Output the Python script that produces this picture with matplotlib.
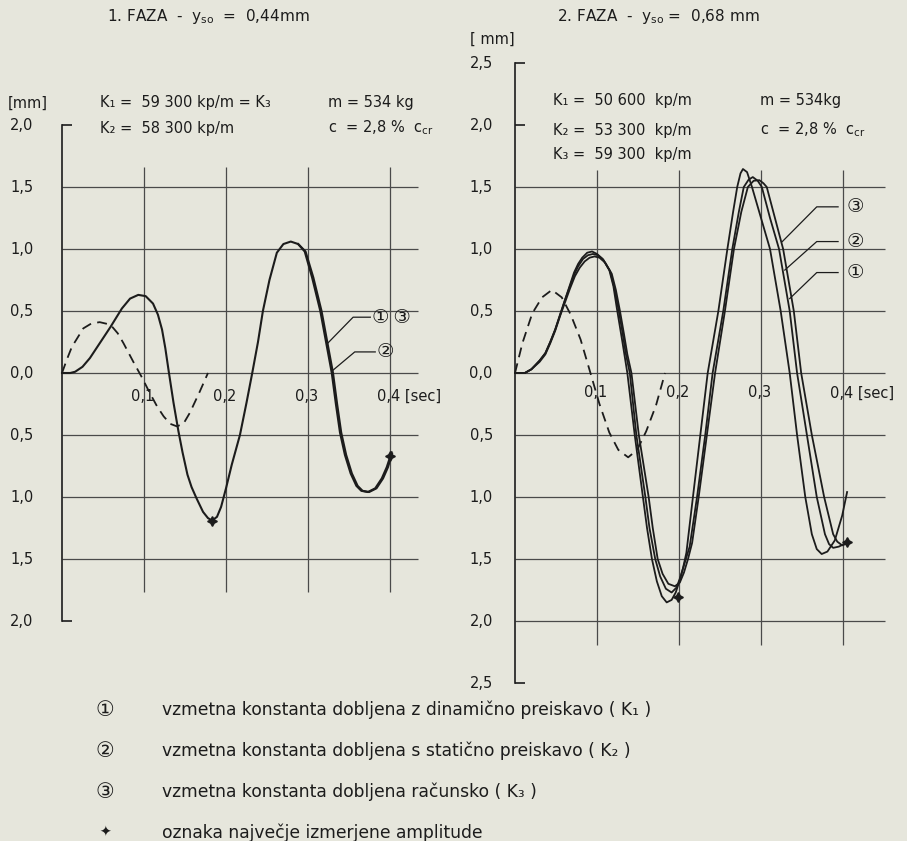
import matplotlib
matplotlib.use('Agg')
import matplotlib.pyplot as plt
import numpy as np

plt.rcParams['font.family'] = ['DejaVu Sans', 'Noto Sans CJK JP']
plt.rcParams['mathtext.default'] = 'regular'

BG = '#e6e6dc'
INK = '#1c1c1c'
GRID = '#4a4a4a'

# ---- 1. FAZA (left) ----
l_dash_t = [0, 0.006, 0.012, 0.026, 0.036, 0.046, 0.059, 0.068, 0.075, 0.087, 0.097,
            0.107, 0.116, 0.124, 0.132, 0.140, 0.148, 0.156, 0.168, 0.178]
l_dash_v = [0, 0.11, 0.21, 0.36, 0.40, 0.41, 0.39, 0.32, 0.24, 0.09, -0.03,
            -0.16, -0.27, -0.35, -0.41, -0.43, -0.41, -0.32, -0.15, 0.0]

l_k1_t = [0, 0.010, 0.016, 0.025, 0.034, 0.045, 0.059, 0.073, 0.083, 0.093, 0.102,
          0.111, 0.117, 0.122, 0.126, 0.130, 0.136, 0.142, 0.147, 0.153, 0.158, 0.164,
          0.172, 0.178, 0.183, 0.189, 0.194, 0.200, 0.207, 0.217, 0.225, 0.232, 0.239,
          0.245, 0.253, 0.262, 0.270, 0.279, 0.288, 0.296, 0.305, 0.315, 0.322,
          0.329, 0.334, 0.339, 0.345, 0.352, 0.359, 0.365, 0.373, 0.382, 0.390, 0.396, 0.402]
l_k1_v = [0, 0.0, 0.01, 0.05, 0.12, 0.23, 0.37, 0.52, 0.60, 0.63, 0.62,
          0.56, 0.47, 0.35, 0.20, 0.02, -0.24, -0.47, -0.64, -0.82, -0.92, -1.01,
          -1.12, -1.17, -1.19, -1.16, -1.08, -0.93, -0.74, -0.5, -0.24, 0.0, 0.25,
          0.5, 0.75, 0.97, 1.04, 1.06, 1.04, 0.98, 0.77, 0.5, 0.25,
          0.0, -0.25, -0.48, -0.66, -0.81, -0.91, -0.95, -0.96, -0.93, -0.85, -0.76, -0.64]

# curve 2 separates slightly from 1/3 after the second peak
l_k2_t = [0.288, 0.297, 0.3065, 0.3165, 0.3235, 0.3305, 0.3355, 0.3405, 0.3465,
          0.3535, 0.3605, 0.3665, 0.3745, 0.3835, 0.3915, 0.3975, 0.4025]
l_k2_v = [1.04, 0.98, 0.77, 0.5, 0.25, 0.0, -0.25, -0.48, -0.66,
          -0.81, -0.91, -0.95, -0.96, -0.93, -0.85, -0.76, -0.65]

l_star_t = [0.183, 0.400]
l_star_v = [-1.19, -0.67]

# ---- 2. FAZA (right) ----
r_dash_t = [0, 0.009, 0.021, 0.033, 0.045, 0.057, 0.068, 0.080, 0.092, 0.103,
            0.115, 0.126, 0.138, 0.149, 0.160, 0.172, 0.183]
r_dash_v = [0, 0.24, 0.48, 0.61, 0.67, 0.61, 0.47, 0.27, 0.0, -0.25,
            -0.48, -0.62, -0.68, -0.62, -0.47, -0.26, 0.0]

r_k3_t = [0, 0.012, 0.020, 0.030, 0.037, 0.043, 0.049, 0.055, 0.061, 0.067, 0.072,
          0.077, 0.082, 0.088, 0.094, 0.100, 0.107, 0.115, 0.120, 0.124, 0.131,
          0.137, 0.146, 0.156, 0.161, 0.167, 0.173, 0.179, 0.185, 0.191, 0.196,
          0.201, 0.205, 0.209, 0.217, 0.226, 0.235, 0.248, 0.259, 0.266, 0.271, 0.275,
          0.278, 0.283, 0.289, 0.300, 0.311, 0.324, 0.335, 0.344, 0.354, 0.362,
          0.368, 0.374, 0.381, 0.390, 0.399, 0.405]
r_k3_v = [0, 0.0, 0.03, 0.10, 0.16, 0.25, 0.35, 0.47, 0.59, 0.71, 0.81,
          0.88, 0.93, 0.97, 0.98, 0.96, 0.92, 0.83, 0.70, 0.53, 0.25,
          0.0, -0.5, -1.0, -1.25, -1.5, -1.68, -1.80, -1.85, -1.83, -1.77,
          -1.67, -1.57, -1.45, -1.0, -0.5, 0.0, 0.5, 1.0, 1.3, 1.5, 1.61,
          1.645, 1.62, 1.5, 1.25, 1.0, 0.5, 0.0, -0.5, -1.0, -1.3,
          -1.42, -1.46, -1.44, -1.35, -1.15, -0.96]

r_k2_t = [0, 0.012, 0.020, 0.030, 0.037, 0.043, 0.049, 0.055, 0.061, 0.067, 0.072,
          0.077, 0.083, 0.089, 0.095, 0.101, 0.108, 0.116, 0.121, 0.126, 0.131,
          0.135, 0.140, 0.148, 0.159, 0.164, 0.171, 0.177, 0.184, 0.191, 0.197,
          0.202, 0.207, 0.213, 0.222, 0.232, 0.241, 0.254, 0.265, 0.273, 0.279, 0.285,
          0.290, 0.296, 0.301, 0.311, 0.322, 0.335, 0.344, 0.356, 0.368, 0.378,
          0.383, 0.388, 0.395, 0.401, 0.406]
r_k2_v = [0, 0.0, 0.03, 0.10, 0.16, 0.25, 0.35, 0.47, 0.59, 0.70, 0.79,
          0.86, 0.92, 0.95, 0.96, 0.95, 0.91, 0.82, 0.69, 0.52, 0.33,
          0.16, 0.0, -0.5, -1.0, -1.25, -1.5, -1.64, -1.74, -1.77, -1.73,
          -1.64, -1.53, -1.40, -1.0, -0.5, 0.0, 0.5, 1.0, 1.3, 1.5, 1.56,
          1.58, 1.55, 1.5, 1.25, 1.0, 0.5, 0.0, -0.5, -1.0, -1.3,
          -1.38, -1.41, -1.40, -1.38, -1.37]

r_k1_t = [0, 0.012, 0.020, 0.030, 0.037, 0.043, 0.049, 0.055, 0.061, 0.067, 0.073,
          0.079, 0.085, 0.091, 0.097, 0.103, 0.110, 0.118, 0.123, 0.128, 0.133,
          0.137, 0.142, 0.151, 0.163, 0.168, 0.174, 0.180, 0.187, 0.195, 0.201,
          0.206, 0.211, 0.216, 0.224, 0.234, 0.244, 0.256, 0.267, 0.276, 0.284, 0.291,
          0.298, 0.303, 0.307, 0.317, 0.327, 0.340, 0.349, 0.362, 0.377, 0.388,
          0.393, 0.399, 0.403, 0.406]
r_k1_v = [0, 0.0, 0.03, 0.09, 0.15, 0.24, 0.34, 0.46, 0.57, 0.68, 0.78,
          0.85, 0.90, 0.93, 0.94, 0.93, 0.89, 0.80, 0.67, 0.50, 0.31,
          0.15, 0.0, -0.5, -1.0, -1.25, -1.5, -1.62, -1.70, -1.72, -1.69,
          -1.61, -1.50, -1.37, -1.0, -0.5, 0.0, 0.5, 1.0, 1.3, 1.5, 1.55,
          1.555, 1.53, 1.5, 1.25, 1.0, 0.5, 0.0, -0.5, -1.0, -1.3,
          -1.36, -1.39, -1.38, -1.36]

r_star_t = [0.199, 0.405]
r_star_v = [-1.81, -1.36]

x_ticks = [0.1, 0.2, 0.3, 0.4]
x_labels = ['0,1', '0,2', '0,3', '0,4 [sec]']
l_yvals = [2.0, 1.5, 1.0, 0.5, 0.0, -0.5, -1.0, -1.5, -2.0]
l_ylabels = ['2,0', '1,5', '1,0', '0,5', '0,0', '0,5', '1,0', '1,5', '2,0']
r_yvals = [2.5, 2.0, 1.5, 1.0, 0.5, 0.0, -0.5, -1.0, -1.5, -2.0, -2.5]
r_ylabels = ['2,5', '2,0', '1,5', '1,0', '0,5', '0,0', '0,5', '1,0', '1,5', '2,0', '2,5']

legend_keys = ['\u2460', '\u2461', '\u2462', '\u2726']
legend_texts = ['vzmetna konstanta dobljena z dinamično preiskavo ( K\u2081 )',
                'vzmetna konstanta dobljena s statično preiskavo ( K\u2082 )',
                'vzmetna konstanta dobljena računsko ( K\u2083 )',
                'oznaka največje izmerjene amplitude']

W, H = 907, 841
fig = plt.figure(figsize=(W / 100, H / 100), dpi=100, facecolor=BG)


def add_ax(l, t, r, b):
    return fig.add_axes([l / W, 1 - b / H, (r - l) / W, (b - t) / H])


def fx(px):
    return px / W


def fy(py):
    return 1 - py / H


def setup(ax, xmax, ylo, yhi, yvals, ylabels, hgrid, vlo, vhi, ends, lab_dx, xlab_y):
    ax.set_facecolor('none')
    ax.set_xlim(0, xmax)
    ax.set_ylim(ylo, yhi)
    for s in ['top', 'right', 'bottom']:
        ax.spines[s].set_visible(False)
    ax.spines['left'].set_color(INK)
    ax.spines['left'].set_linewidth(1.2)
    ax.set_xticks([])
    ax.set_yticks([])
    ax.set_yticks(ends, minor=True)
    ax.tick_params(axis='y', which='minor', direction='in', length=7, width=1.2, color=INK)
    ax.hlines(hgrid, 0, xmax, color=GRID, lw=0.9, clip_on=False)
    ax.vlines(x_ticks, vlo, vhi, color=GRID, lw=0.9, clip_on=False)
    for v, s in zip(yvals, ylabels):
        ax.text(lab_dx, v, s, ha='right', va='center', fontsize=10.5, color=INK, clip_on=False)
    for t, s in zip(x_ticks, x_labels):
        ax.text(t - 0.016, xlab_y, s, ha='left', va='center', fontsize=10.5, color=INK, clip_on=False)


# left panel
axL = add_ax(62, 125, 418, 621)
setup(axL, 356 / 820, -2, 2, l_yvals, l_ylabels, [1.5, 1.0, 0.5, 0.0, -0.5, -1.0, -1.5],
      -1.77, 1.66, [2.0, -2.0], -0.035, -0.19)
axL.plot(l_dash_t, l_dash_v, color=INK, lw=1.3, dashes=(5.5, 3.5), clip_on=False)
axL.plot(l_k1_t, l_k1_v, color=INK, lw=1.5, clip_on=False)
axL.plot(l_k2_t, l_k2_v, color=INK, lw=1.5, clip_on=False)
axL.plot(l_star_t, l_star_v, ls='none', marker=(4, 1, 0), ms=7, color=INK, clip_on=False)
axL.plot([0.376, 0.355, 0.324], [0.45, 0.45, 0.24], color=INK, lw=0.9)
axL.plot([0.382, 0.357, 0.330], [0.17, 0.17, 0.02], color=INK, lw=0.9)
axL.text(0.378, 0.45, '\u2460\u2009\u2462', ha='left', va='center', fontsize=14, color=INK)
axL.text(0.384, 0.17, '\u2461', ha='left', va='center', fontsize=14, color=INK)

# right panel
axR = add_ax(515, 63, 885, 683)
setup(axR, 370 / 820, -2.5, 2.5, r_yvals, r_ylabels,
      [1.5, 1.0, 0.5, 0.0, -0.5, -1.0, -1.5, -2.0], -2.19, 1.64, [2.5, 2.0, -2.5], -0.027, -0.16)
axR.plot(r_dash_t, r_dash_v, color=INK, lw=1.3, dashes=(5.5, 3.5), clip_on=False)
for tt, vv in [(r_k3_t, r_k3_v), (r_k2_t, r_k2_v), (r_k1_t, r_k1_v)]:
    axR.plot(tt, vv, color=INK, lw=1.3, clip_on=False)
axR.plot(r_star_t, r_star_v, ls='none', marker=(4, 1, 0), ms=7, color=INK, clip_on=False)
for lab, yv, end in [('\u2462', 1.34, (0.326, 1.06)), ('\u2461', 1.06, (0.329, 0.83)),
                     ('\u2460', 0.81, (0.335, 0.60))]:
    axR.plot([0.394, 0.368, end[0]], [yv, yv, end[1]], color=INK, lw=0.9, clip_on=False)
    axR.text(0.404, yv, lab, ha='left', va='center', fontsize=14, color=INK, clip_on=False)

# titles and parameter blocks
fig.text(fx(107), fy(17), '1. FAZA  -  y$_{so}$  =  0,44mm', fontsize=11, color=INK, va='center')
fig.text(fx(557), fy(17), '2. FAZA  -  y$_{so}$ =  0,68 mm', fontsize=11, color=INK, va='center')
fig.text(fx(8), fy(103), '[mm]', fontsize=10.5, color=INK, va='center')
fig.text(fx(470), fy(39), '[ mm]', fontsize=10.5, color=INK, va='center')

fig.text(fx(100), fy(103), 'K\u2081 =  59 300 kp/m = K\u2083', fontsize=10.5, color=INK, va='center')
fig.text(fx(100), fy(128), 'K\u2082 =  58 300 kp/m', fontsize=10.5, color=INK, va='center')
fig.text(fx(328), fy(103), 'm = 534 kg', fontsize=10.5, color=INK, va='center')
fig.text(fx(328), fy(128), 'c  = 2,8 %  c$_{cr}$', fontsize=10.5, color=INK, va='center')

fig.text(fx(553), fy(100), 'K\u2081 =  50 600  kp/m', fontsize=10.5, color=INK, va='center')
fig.text(fx(553), fy(130), 'K\u2082 =  53 300  kp/m', fontsize=10.5, color=INK, va='center')
fig.text(fx(553), fy(154), 'K\u2083 =  59 300  kp/m', fontsize=10.5, color=INK, va='center')
fig.text(fx(760), fy(100), 'm = 534kg', fontsize=10.5, color=INK, va='center')
fig.text(fx(760), fy(130), 'c  = 2,8 %  c$_{cr}$', fontsize=10.5, color=INK, va='center')

# legend
for i, (k, s) in enumerate(zip(legend_keys, legend_texts)):
    yy = 710 + i * 41
    fig.text(fx(105), fy(yy), k, fontsize=15 if i < 3 else 10, color=INK, ha='center', va='center')
    fig.text(fx(162), fy(yy), s, fontsize=12.3, color=INK, ha='left', va='center')

fig.savefig('out.png', dpi=100, facecolor=BG)
